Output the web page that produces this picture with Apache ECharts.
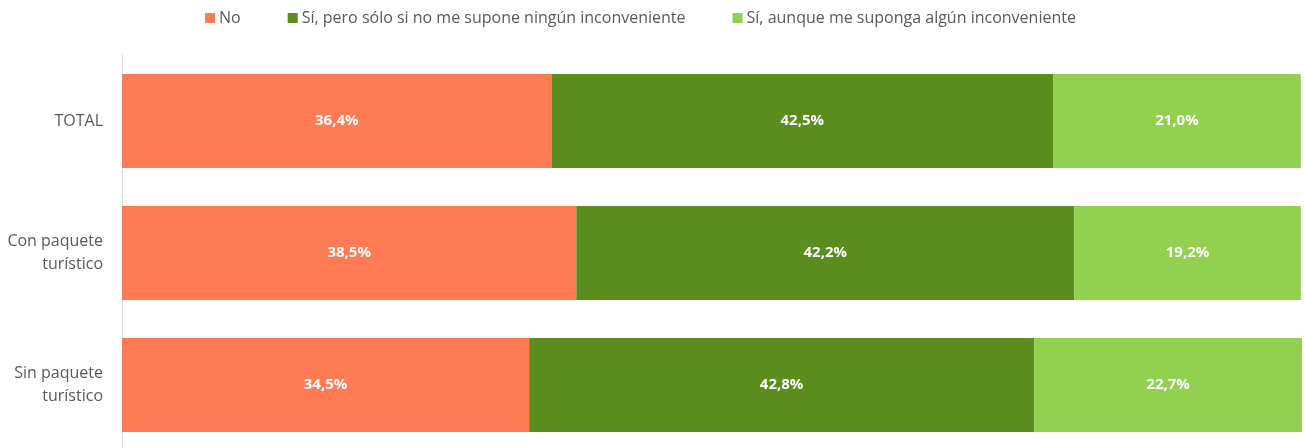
<!DOCTYPE html>
<html><head><meta charset="utf-8">
<script src="https://cdn.jsdelivr.net/npm/echarts@6/dist/echarts.min.js"></script>
<style>html,body{margin:0;padding:0;background:#fff;overflow:hidden}#c{width:1304px;height:451px}</style>
</head><body><div id="c"></div>
<script>
const categories = ["TOTAL", "Con paquete\nturístico", "Sin paquete\nturístico"];
const seriesNames = ["No", "Sí, pero sólo si no me supone ningún inconveniente", "Sí, aunque me suponga algún inconveniente"];
const valuesNo = [36.4, 38.5, 34.5];
const valuesSiSinInconv = [42.5, 42.2, 42.8];
const valuesSiConInconv = [21.0, 19.2, 22.7];
const colors = ["#FF7B54", "#5B8C1E", "#92D050"];

const font = "'Open Sans', 'Liberation Sans', sans-serif";
const chart = echarts.init(document.getElementById('c'), null, {renderer: 'canvas'});
const mk = (name, data, color) => ({
  name, type: 'bar', stack: 'total', data, barCategoryGap: '28.6%',
  itemStyle: {color},
  label: {show: true, position: 'inside', color: '#fff', fontWeight: 'bold', fontSize: 15, fontFamily: font,
    formatter: p => p.value.toFixed(1).replace('.', ',') + '%'}
});
chart.setOption({
  animation: false,
  legend: {
    left: 200, top: 5, itemWidth: 10, itemHeight: 10, itemGap: 47, icon: 'rect',
    textStyle: {color: '#595959', fontSize: 16, fontFamily: font, padding: [0,0,0,-1]},
    data: seriesNames
  },
  grid: {left: 122, right: 2, top: 55, bottom: 0, containLabel: false},
  xAxis: {type: 'value', min: 0, max: 100, show: false},
  yAxis: {
    type: 'category', data: categories, inverse: true,
    axisLine: {show: true, lineStyle: {color: '#D9D9D9', width: 1}},
    axisTick: {show: false},
    axisLabel: {color: '#595959', fontSize: 16, fontFamily: font, margin: 19, lineHeight: 23, align: 'right'}
  },
  series: [
    mk(seriesNames[0], valuesNo, colors[0]),
    mk(seriesNames[1], valuesSiSinInconv, colors[1]),
    mk(seriesNames[2], valuesSiConInconv, colors[2])
  ]
});
</script></body></html>
